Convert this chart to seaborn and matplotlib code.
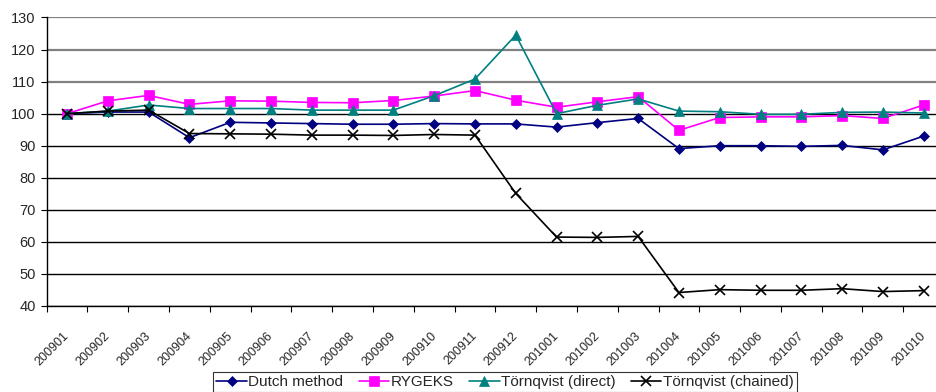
import numpy as np
import pandas as pd
import matplotlib
matplotlib.use("Agg")
import matplotlib.pyplot as plt
from matplotlib.transforms import ScaledTranslation
import seaborn as sns

months = ["200901", "200902", "200903", "200904", "200905", "200906", "200907",
          "200908", "200909", "200910", "200911", "200912", "201001", "201002",
          "201003", "201004", "201005", "201006", "201007", "201008", "201009",
          "201010"]

dutch = [100.0, 100.5, 100.5, 92.5, 97.3, 97.1, 96.9, 96.7, 96.7, 96.9, 96.8,
         96.8, 95.8, 97.2, 98.5, 89.1, 90.0, 90.0, 89.8, 90.1, 88.7, 93.0]
rygeks = [100.0, 104.0, 105.7, 102.9, 104.0, 103.9, 103.5, 103.4, 104.1, 105.5,
          107.2, 104.2, 102.0, 103.7, 105.3, 94.8, 98.8, 99.0, 99.0, 99.4, 98.5, 102.7]
tornqvist_direct = [100.0, 100.8, 102.7, 101.6, 101.6, 101.6, 101.1, 101.1, 101.1,
                    105.6, 110.8, 124.5, 100.0, 102.6, 104.6, 100.8, 100.6, 99.8,
                    99.8, 100.4, 100.5, 100.2]
tornqvist_chained = [100.0, 100.8, 101.1, 93.8, 93.7, 93.6, 93.3, 93.3, 93.2, 93.5,
                     93.3, 75.1, 61.5, 61.4, 61.7, 44.2, 45.1, 44.9, 44.9, 45.4,
                     44.5, 44.8]

series = ["Dutch method", "RYGEKS", "Törnqvist (direct)", "Törnqvist (chained)"]
values = [dutch, rygeks, tornqvist_direct, tornqvist_chained]
colors = ["#000080", "#FF00FF", "#008080", "#000000"]
markers = ["D", "s", "^", "x"]
msizes = [5, 7, 7, 7]

sns.set_style("white")
plt.rcParams["font.family"] = ["Liberation Sans", "DejaVu Sans"]

fig = plt.figure(figsize=(9.36, 3.92), dpi=100)
ax = fig.add_axes([0.0499, 0.2194, 0.9587, 0.736])

for name, vals, c, m, ms in zip(series, values, colors, markers, msizes):
    df = pd.DataFrame({"month": months, "value": vals})
    sns.lineplot(data=df, x="month", y="value", sort=False, ax=ax, color=c,
                 marker=m, markersize=ms, markeredgecolor=c, markerfacecolor=c,
                 markeredgewidth=1.2 if m == "x" else 0.5, linewidth=1.2,
                 label=name)

ax.set_xlim(-0.5, len(months) - 0.5)
ax.set_ylim(40, 130)
ax.set_yticks(np.arange(40, 131, 10))
ax.tick_params(axis="y", labelsize=10.5, length=4, width=0.8, color="black",
               pad=4, left=True)

# ticks between categories, labels at centres
ax.set_xticks(np.arange(-0.5, len(months), 1))
ax.set_xticklabels([])
ax.tick_params(axis="x", which="major", length=4, width=0.8, color="black",
               bottom=True)
ax.set_xticks(np.arange(len(months)), minor=True)
ax.set_xticklabels(months, minor=True, rotation=45, ha="right",
                   rotation_mode="anchor", fontsize=9)
ax.tick_params(axis="x", which="minor", length=0, pad=17)
shift = ScaledTranslation(-4 / 100, 0, fig.dpi_scale_trans)
for lbl in ax.get_xticklabels(minor=True):
    lbl.set_transform(lbl.get_transform() + shift)

ax.set_xlabel("")
ax.set_ylabel("")

ax.yaxis.grid(True)
for val, gl in zip(ax.get_yticks(), ax.get_ygridlines()):
    if val > 100:
        gl.set_color("#808080")
        gl.set_linewidth(1.6)
    else:
        gl.set_color("black")
        gl.set_linewidth(1.0)
ax.set_axisbelow(True)

for s in ["top", "right"]:
    ax.spines[s].set_visible(False)
for s in ["left", "bottom"]:
    ax.spines[s].set_color("black")
    ax.spines[s].set_linewidth(1.0)

handles, labels = ax.get_legend_handles_labels()
ax.get_legend().remove()
leg = fig.legend(handles, labels, loc="upper center",
                 bbox_to_anchor=(505 / 936, 1 - 372 / 392), ncol=4,
                 fontsize=11, frameon=True, fancybox=False, edgecolor="black",
                 handlelength=2.0, handletextpad=0.1, columnspacing=1.0,
                 borderpad=0.2, borderaxespad=0)
leg.get_frame().set_linewidth(0.8)

fig.savefig("out.png", dpi=100)
